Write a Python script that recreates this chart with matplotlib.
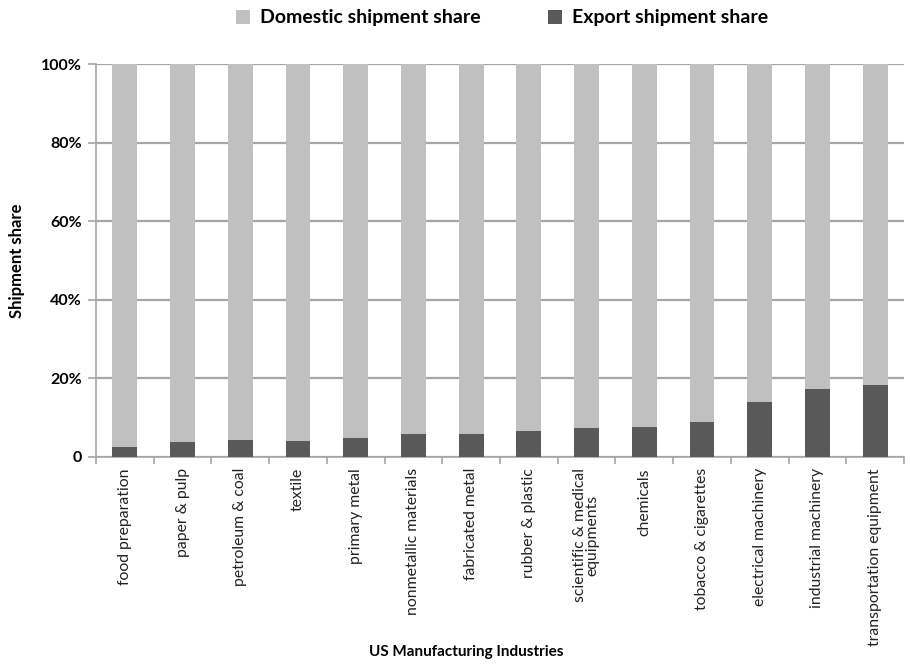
import matplotlib
matplotlib.use('Agg')
import matplotlib.pyplot as plt
import numpy as np
from matplotlib.ticker import FuncFormatter

plt.rcParams['font.family'] = ['Lato', 'DejaVu Sans']

industries = ['food preparation', 'paper & pulp', 'petroleum & coal', 'textile',
              'primary metal', 'nonmetallic materials', 'fabricated metal',
              'rubber & plastic', 'scientific & medical\nequipments', 'chemicals',
              'tobacco & cigarettes', 'electrical machinery', 'industrial machinery',
              'transportation equipment']
export_share = [2.55, 3.75, 4.25, 4.1, 4.95, 5.95, 5.95, 6.6, 7.5, 7.65, 8.85, 14.1, 17.2, 18.2]
domestic_share = [97.45, 96.25, 95.75, 95.9, 95.05, 94.05, 94.35, 93.4, 92.5, 92.65, 91.45, 85.9, 82.8, 81.8]

c_dom = '#c0c0c0'
c_exp = '#595959'
c_grid = '#a6a6a6'

fig = plt.figure(figsize=(9.12, 6.65), dpi=100)
ax = fig.add_axes([96/912, 1 - 457/665, (904-96)/912, (457-64)/665])

x = np.arange(len(industries))
ax.bar(x, export_share, width=0.43, color=c_exp, label='Export shipment share', zorder=3)
ax.bar(x, domestic_share, width=0.43, bottom=export_share, color=c_dom,
       label='Domestic shipment share', zorder=3)

ax.set_xlim(-0.5, len(industries) - 0.5)
ax.set_ylim(0, 100)
ax.set_yticks([0, 20, 40, 60, 80, 100])
ax.yaxis.set_major_formatter(FuncFormatter(lambda v, p: '0' if v == 0 else f'{v:.0f}%'))
ax.grid(axis='y', color=c_grid, linewidth=1.6, zorder=0)
ax.set_axisbelow(True)

for s in ['top', 'right']:
    ax.spines[s].set_visible(False)
for s in ['left', 'bottom']:
    ax.spines[s].set_color(c_grid)
    ax.spines[s].set_linewidth(1.2)

ax.tick_params(axis='y', colors=c_grid, length=6, width=1.2, labelcolor='black',
               labelsize=11.5, pad=4)
for t in ax.get_yticklabels():
    t.set_fontweight('bold')

# category ticks sit between the bars, labels under the bars
ax.set_xticks(np.arange(-0.5, len(industries) - 0.4, 1.0), minor=False)
ax.set_xticklabels([])
ax.tick_params(axis='x', colors=c_grid, length=5, width=1.2)
ax.set_xticks(x, minor=True)
ax.set_xticklabels(industries, minor=True, rotation=90, fontsize=11.3, va='top', ha='center',
                   linespacing=0.85)
ax.tick_params(axis='x', which='minor', length=0, pad=8, labelcolor='#222222')

ax.set_ylabel('Shipment share', fontsize=12, fontweight='bold', labelpad=12)
fig.text(466/912, 1 - 652/665, 'US Manufacturing Industries', fontsize=11,
         fontweight='bold', ha='center', va='center')

handles, labels = ax.get_legend_handles_labels()
fig.legend(handles[::-1], labels[::-1], loc='center', bbox_to_anchor=(502/912, 1 - 18/665),
           ncol=2, frameon=False, handlelength=0.75, handleheight=0.75, columnspacing=3.45,
           handletextpad=0.5, prop={'weight': 'bold', 'size': 14})

fig.savefig('out.png', dpi=100)
